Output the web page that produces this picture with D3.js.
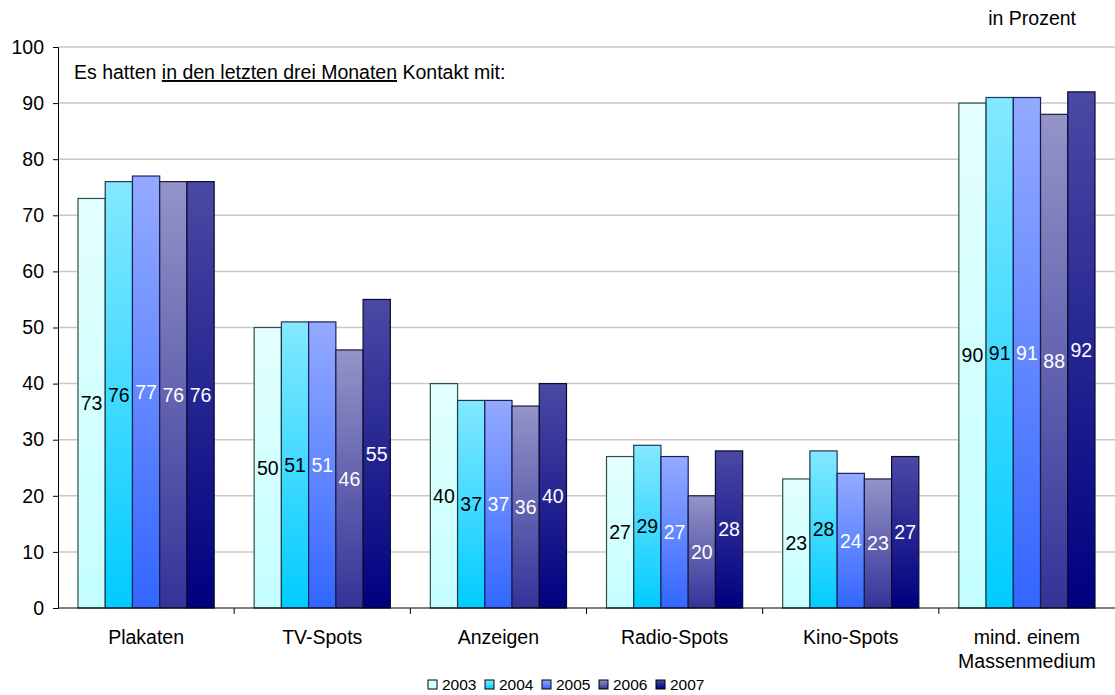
<!DOCTYPE html>
<html>
<head>
<meta charset="utf-8">
<script src="https://cdn.jsdelivr.net/npm/d3@7"></script>
<style>
  body { margin: 0; background: #fff; }
  text { font-family: "Liberation Sans", Arial, sans-serif; }
</style>
</head>
<body>
<div id="chart"></div>
<script>
const categories = ["Plakaten", "TV-Spots", "Anzeigen", "Radio-Spots", "Kino-Spots", "mind. einem Massenmedium"]
const years = ["2003", "2004", "2005", "2006", "2007"]
const v2003 = [73, 50, 40, 27, 23, 90]
const v2004 = [76, 51, 37, 29, 28, 91]
const v2005 = [77, 51, 37, 27, 24, 91]
const v2006 = [76, 46, 36, 20, 23, 88]
const v2007 = [76, 55, 40, 28, 27, 92]
const yTicks = [0, 10, 20, 30, 40, 50, 60, 70, 80, 90, 100]

const seriesValues = [v2003, v2004, v2005, v2006, v2007]
const gradients = [
  { top: "#e4ffff", bottom: "#c4ffff", stroke: "#2f4f4f", label: "#000" },
  { top: "#84e8ff", bottom: "#00ccff", stroke: "#1a3a50", label: "#000" },
  { top: "#94aaff", bottom: "#3366ff", stroke: "#1a2060", label: "#fff" },
  { top: "#9494c8", bottom: "#333399", stroke: "#1a1a40", label: "#fff" },
  { top: "#4a4aa4", bottom: "#000080", stroke: "#0a0a30", label: "#fff" }
]

const data = categories.map((c, i) => ({
  category: c,
  values: years.map((y, j) => ({ year: y, idx: j, value: seriesValues[j][i] }))
}))

const W = 1115, H = 695
const MARGIN = { top: 47, right: 0, bottom: 87, left: 58 }
const WIDTH = W - MARGIN.left - MARGIN.right
const HEIGHT = H - MARGIN.top - MARGIN.bottom
const FS = "19.5px"

const svg = d3.select("#chart").append("svg")
  .attr("width", W).attr("height", H)

const defs = svg.append("defs")
gradients.forEach((g, i) => {
  const lg = defs.append("linearGradient")
    .attr("id", "grad" + i)
    .attr("x1", 0).attr("y1", 0).attr("x2", 0).attr("y2", 1)
  lg.append("stop").attr("offset", "0%").attr("stop-color", g.top)
  lg.append("stop").attr("offset", "100%").attr("stop-color", g.bottom)
})

const g = svg.append("g")
  .attr("transform", `translate(${MARGIN.left},${MARGIN.top})`)

const x0 = d3.scaleBand().domain(categories).range([0, WIDTH]).paddingInner(0).paddingOuter(0)
const x1 = d3.scaleBand().domain(years).range([20, x0.bandwidth() - 20]).padding(0)
const y = d3.scaleLinear().domain([0, 100]).range([HEIGHT, 0])

// gridlines
g.append("g").selectAll("line")
  .data(yTicks.filter(t => t > 0))
  .enter().append("line")
  .attr("x1", 0).attr("x2", WIDTH)
  .attr("y1", d => y(d)).attr("y2", d => y(d))
  .attr("stroke", "#c8c8c8").attr("stroke-width", 1.5)

// y axis
const yAxis = g.append("g")
  .call(d3.axisLeft(y).tickValues(yTicks).tickSize(5).tickPadding(9))
yAxis.select(".domain").attr("stroke", "#000")
yAxis.selectAll("text").attr("font-size", FS).attr("fill", "#000")

// bars
const groups = g.selectAll(".group")
  .data(data)
  .enter().append("g")
  .attr("class", "group")
  .attr("transform", d => `translate(${x0(d.category)},0)`)

groups.selectAll("rect")
  .data(d => d.values)
  .enter().append("rect")
  .attr("x", d => x1(d.year))
  .attr("y", d => y(d.value))
  .attr("width", x1.bandwidth())
  .attr("height", d => HEIGHT - y(d.value))
  .attr("fill", d => `url(#grad${d.idx})`)
  .attr("stroke", d => gradients[d.idx].stroke)
  .attr("stroke-width", 1.2)

groups.selectAll(".lbl")
  .data(d => d.values)
  .enter().append("text")
  .attr("class", "lbl")
  .attr("x", d => x1(d.year) + x1.bandwidth() / 2)
  .attr("y", d => y(d.value / 2))
  .attr("dy", "0.35em")
  .attr("text-anchor", "middle")
  .attr("font-size", FS)
  .attr("fill", d => gradients[d.idx].label)
  .text(d => d.value)

// x axis
const xAxis = g.append("g")
  .attr("transform", `translate(0,${HEIGHT})`)
xAxis.append("line").attr("x1", 0).attr("x2", WIDTH).attr("stroke", "#000")
xAxis.selectAll(".tick")
  .data(categories.slice(1))
  .enter().append("line")
  .attr("x1", d => x0(d)).attr("x2", d => x0(d))
  .attr("y1", 0).attr("y2", 6)
  .attr("stroke", "#000")

const catLabels = xAxis.selectAll(".cat")
  .data(categories)
  .enter().append("text")
  .attr("x", d => x0(d) + x0.bandwidth() / 2)
  .attr("y", 36)
  .attr("text-anchor", "middle")
  .attr("font-size", FS)
  .attr("fill", "#000")
catLabels.each(function (d) {
  const t = d3.select(this)
  if (d === "mind. einem Massenmedium") {
    t.append("tspan").attr("x", x0(d) + x0.bandwidth() / 2).text("mind. einem")
    t.append("tspan").attr("x", x0(d) + x0.bandwidth() / 2).attr("dy", 24).text("Massenmedium")
  } else {
    t.text(d)
  }
})

// annotation
const note = g.append("text")
  .attr("x", 16).attr("y", 32)
  .attr("font-size", FS).attr("fill", "#000")
note.append("tspan").text("Es hatten ")
note.append("tspan").attr("text-decoration", "underline").text("in den letzten drei Monaten")
note.append("tspan").text(" Kontakt mit:")

svg.append("text")
  .attr("x", 1076).attr("y", 25)
  .attr("text-anchor", "end")
  .attr("font-size", FS)
  .text("in Prozent")

// legend
const legend = svg.append("g").attr("transform", "translate(428,685)")
let lx = 0
years.forEach((yr, i) => {
  const item = legend.append("g").attr("transform", `translate(${lx},0)`)
  item.append("rect")
    .attr("x", 0).attr("y", -5).attr("width", 9).attr("height", 9)
    .attr("fill", `url(#grad${i})`).attr("stroke", "#000")
  item.append("text")
    .attr("x", 14).attr("y", 0).attr("dy", "0.35em")
    .attr("font-size", "15.5px")
    .text(yr)
  lx += 57
})
</script>
</body>
</html>
